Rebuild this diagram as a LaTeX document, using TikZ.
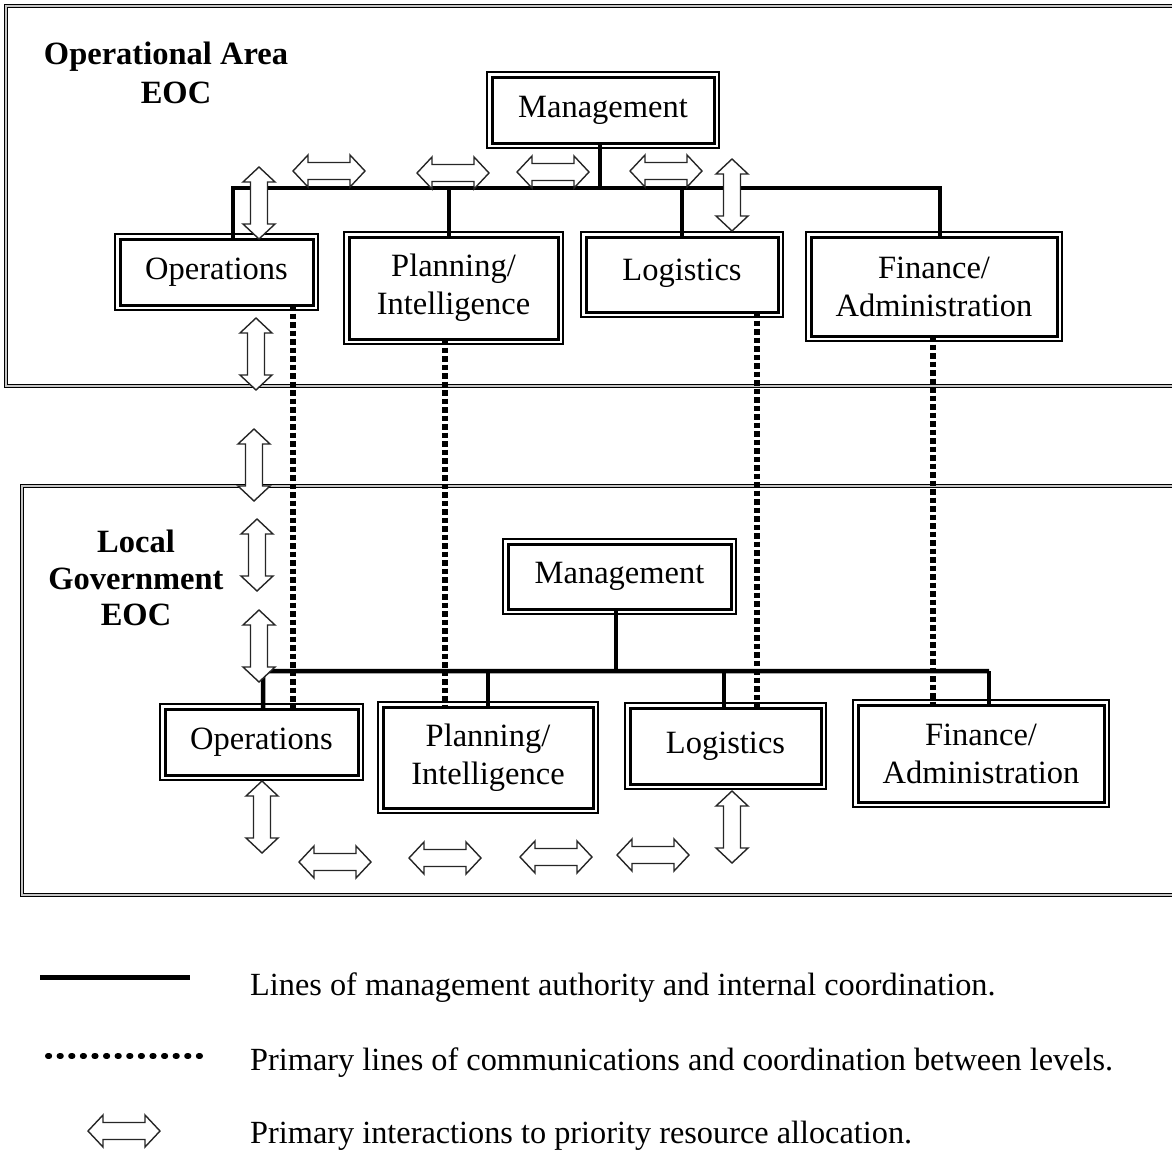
\documentclass[tikz,border=0pt]{standalone}
\usepackage{fontspec}
\setmainfont{Liberation Serif}
\begin{document}
\begin{tikzpicture}[x=1pt,y=-1pt,
  orgbox/.style={draw, line width=3pt, outer sep=0pt, inner sep=0pt, align=center,
    font=\fontsize{32.5}{38}\selectfont},
  outerline/.style={line width=1.5pt},
  eocframe/.style={draw, line width=1.3pt, double=gray!45, double distance=2.2pt},
  mgmt/.style={line width=4.5pt},
  comm/.style={line width=5.5pt, dash pattern=on 5.5pt off 3pt},
  legdots/.style={line width=6pt, line cap=round, dash pattern=on 1.2pt off 10.4pt},
  lbl/.style={font=\fontsize{32.5}{36.5}\selectfont\bfseries, align=center, inner sep=0pt},
  legtext/.style={font=\fontsize{32.3}{37}\selectfont, anchor=west, inner sep=0pt},
  hollow/.pic={\draw[line width=1.4pt, draw=black!85, fill=white]
     (-36,0) -- (-21,-16) -- (-21,-8.5) -- (21,-8.5) -- (21,-16) -- (36,0)
     -- (21,16) -- (21,8.5) -- (-21,8.5) -- (-21,16) -- cycle;}
]
\useasboundingbox (0,0) rectangle (1172,1151);

% EOC frames
\draw[eocframe] (6,6) rectangle (1200,386);
\draw[eocframe] (22,486) rectangle (1200,895);

% frame labels
\node[lbl] (oatitle) at (166,57) {Operational Area};
\node[lbl] (oaeoc) at (176,93) {EOC};
\node[lbl] (lgtitle) at (136,578) {Local\\Government\\EOC};

% top level boxes
\node[orgbox, minimum width=222, minimum height=66] (m1) at (603,110) {\raisebox{-2pt}{Management}};
\node[orgbox, minimum width=193, minimum height=66] (o1) at (216.5,272) {Operations};
\node[orgbox, minimum width=209, minimum height=102] (p1) at (453.5,288) {Planning/\\Intelligence};
\node[orgbox, minimum width=192, minimum height=75] (l1) at (682,274.5) {\raisebox{9pt}{Logistics}};
\node[orgbox, minimum width=246, minimum height=99] (f1) at (934,286.5) {Finance/\\Administration};

% bottom level boxes
\node[orgbox, minimum width=223, minimum height=65] (m2) at (619.5,576.5) {\raisebox{-2pt}{Management}};
\node[orgbox, minimum width=193, minimum height=66] (o2) at (261.5,742) {\raisebox{-2pt}{Operations}};
\node[orgbox, minimum width=210, minimum height=101] (p2) at (488,757.5) {Planning/\\Intelligence};
\node[orgbox, minimum width=191, minimum height=76] (l2) at (725.5,746) {\raisebox{5pt}{Logistics}};
\node[orgbox, minimum width=246, minimum height=97] (f2) at (981,753.5) {Finance/\\Administration};

% thin outer borders of the boxes
\foreach \n in {m1,o1,p1,l1,f1,m2,o2,p2,l2,f2}
  \draw[outerline] ([shift={(-5,-5)}]\n.north west) rectangle ([shift={(5,5)}]\n.south east);

% management lines, top
\coordinate (tbL) at (233,188);
\coordinate (tbR) at (940,188);
\draw[mgmt] ([xshift=16.5]o1.north) -- (tbL) -- (tbR) -- ([xshift=6]f1.north);
\draw[mgmt] ([xshift=-3]m1.south) -- ([xshift=-3]m1.south |- tbL);
\draw[mgmt] ([xshift=-4.5]p1.north) -- ([xshift=-4.5]p1.north |- tbL);
\draw[mgmt] (l1.north) -- (l1.north |- tbL);

% management lines, bottom
\coordinate (bbL) at (263,671);
\coordinate (bbR) at (989,671);
\draw[mgmt, rounded corners=5pt] ([xshift=1.5]o2.north) -- (bbL) -- (bbR);
\draw[mgmt] (bbR) -- ([xshift=8]f2.north);
\draw[mgmt] ([xshift=-3.5]m2.south) -- ([xshift=-3.5]m2.south |- bbL);
\draw[mgmt] (p2.north) -- (p2.north |- bbL);
\draw[mgmt] ([xshift=-1.5]l2.north) -- ([xshift=-1.5]l2.north |- bbL);

% communication lines between levels
\draw[comm] ([xshift=76.5]o1.south) -- ([xshift=76.5]o1.south |- o2.north);
\draw[comm] ([xshift=-8.5]p1.south) -- ([xshift=-8.5]p1.south |- p2.north);
\draw[comm] ([xshift=75]l1.south) -- ([xshift=75]l1.south |- l2.north);
\draw[comm] ([xshift=-1]f1.south) -- ([xshift=-1]f1.south |- f2.north);

% hollow double arrows
\pic (ha1) at (329,171) {hollow};
\pic (ha2) at (453,173) {hollow};
\pic (ha3) at (553,172) {hollow};
\pic (ha4) at (666,171) {hollow};
\pic[rotate=90] (va1) at (259,203) {hollow};
\pic[rotate=90] (va2) at (732,195) {hollow};
\pic[rotate=90] (va3) at (256,354) {hollow};
\pic[rotate=90] (va4) at (254,465) {hollow};
\pic[rotate=90] (va5) at (257,555) {hollow};
\pic[rotate=90] (va6) at (259,646) {hollow};
\pic[rotate=90] (va7) at (262,817) {hollow};
\pic[rotate=90] (va8) at (732,827) {hollow};
\pic (hb1) at (335,862) {hollow};
\pic (hb2) at (445,858) {hollow};
\pic (hb3) at (556,857) {hollow};
\pic (hb4) at (653,855) {hollow};

% legend
\coordinate (lg1a) at (40,977);
\coordinate (lg1b) at (190,977);
\draw[line width=5pt] (lg1a) -- (lg1b);
\coordinate (lg2a) at (48,1056);
\coordinate (lg2b) at (210,1056);
\draw[legdots] (lg2a) -- (lg2b);
\pic (lg3) at (124,1131) {hollow};
\node[legtext] (t1) at (250,988) {Lines of management authority and internal coordination.};
\node[legtext] (t2) at (250,1063) {Primary lines of communications and coordination between levels.};
\node[legtext] (t3) at (250,1136) {Primary interactions to priority resource allocation.};
\end{tikzpicture}
\end{document}
